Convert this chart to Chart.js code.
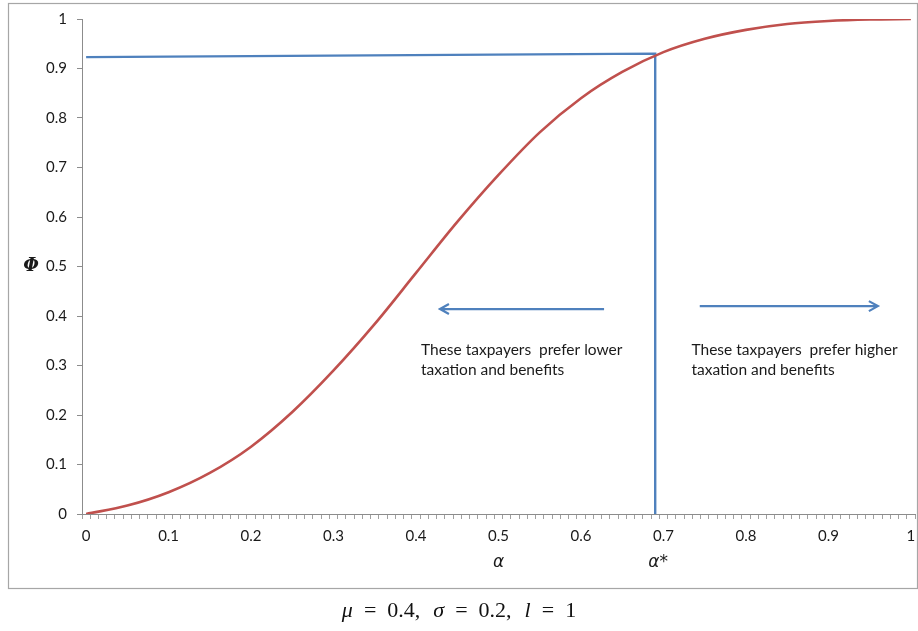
<!DOCTYPE html>
<html>
<head>
<meta charset="utf-8">
<script src="https://cdn.jsdelivr.net/npm/chart.js@4.4.1/dist/chart.umd.min.js"></script>
<style>
  body { margin: 0; background: #fff; }
  #wrap { position: relative; width: 918px; height: 631px; }
  canvas { position: absolute; left: 0; top: 0; }
  #caption {
    position: absolute; left: 0; width: 918px; top: 597px;
    text-align: center; font: 22px "Liberation Serif", "DejaVu Serif", serif; color: #111;
  }
  #caption i { font-style: italic; }
  #caption .eq { display: inline-block; margin: 0 11px; }
  #caption .sep { display: inline-block; width: 13px; }
</style>
</head>
<body>
<div id="wrap">
  <canvas id="chart" width="918" height="631"></canvas>
  <div id="caption"><i>μ</i><span class="eq">=</span>0.4,<span class="sep"></span><i>σ</i><span class="eq">=</span>0.2,<span class="sep"></span><i>l</i><span class="eq">=</span>1</div>
</div>
<script>
// curve
var alpha = [0, 0.05, 0.1, 0.15, 0.2, 0.25, 0.3, 0.35, 0.4, 0.45, 0.5,
             0.55, 0.6, 0.65, 0.7, 0.75, 0.8, 0.85, 0.9, 0.95, 1];
var phi = [0, 0.017, 0.044, 0.083, 0.136, 0.206, 0.29, 0.384, 0.487, 0.59, 0.685,
           0.771, 0.84, 0.893, 0.933, 0.96, 0.978, 0.99, 0.996, 0.999, 1];

// blue marker lines: from phi axis over to alpha*, then down
var alphaStar = 0.69;
var markX = [0, alphaStar, alphaStar];
var markY = [0.923, 0.93, 0];

// arrows [fromX, toX, y]
var arrowLeft = [0.628, 0.429, 0.414];
var arrowRight = [0.744, 0.96, 0.42];

var noteLeft = ['These taxpayers  prefer lower', 'taxation and benefits'];
var noteRight = ['These taxpayers  prefer higher', 'taxation and benefits'];
var notePos = [[0.406, 0.331], [0.734, 0.331]];

var xLabels = ['0', '0.1', '0.2', '0.3', '0.4', '0.5', '0.6', '0.7', '0.8', '0.9', '1'];
var yLabels = ['0', '0.1', '0.2', '0.3', '0.4', '0.5', '0.6', '0.7', '0.8', '0.9', '1'];

var red = '#c0504d';
var blue = '#4f81bd';
var axisGrey = '#8c8c8c';
var tickFont = { family: 'Lato', size: 15 };

function isLabel(v) {
  return Math.abs(v * 10 - Math.round(v * 10)) < 1e-6;
}

var extras = {
  id: 'extras',
  beforeDraw: function (chart) {
    var c = chart.ctx;
    c.save();
    c.fillStyle = '#fff';
    c.fillRect(0, 0, chart.width, chart.height);
    c.strokeStyle = '#a6a6a6';
    c.lineWidth = 1.2;
    c.strokeRect(8.5, 3.5, 909, 585);
    c.restore();
  },
  afterDraw: function (chart) {
    var c = chart.ctx;
    var xs = chart.scales.x, ys = chart.scales.y;
    c.save();
    c.strokeStyle = blue;
    c.lineWidth = 2.2;
    [arrowLeft, arrowRight].forEach(function (a) {
      var x0 = xs.getPixelForValue(a[0]), x1 = xs.getPixelForValue(a[1]);
      var y = ys.getPixelForValue(a[2]);
      var d = x1 > x0 ? -1 : 1;
      c.beginPath();
      c.moveTo(x0, y);
      c.lineTo(x1, y);
      c.moveTo(x1 + d * 9, y - 5);
      c.lineTo(x1, y);
      c.lineTo(x1 + d * 9, y + 5);
      c.stroke();
    });
    c.fillStyle = '#1a1a1a';
    c.font = '15.5px Lato';
    c.textBaseline = 'middle';
    c.textAlign = 'left';
    [noteLeft, noteRight].forEach(function (lines, i) {
      var x = xs.getPixelForValue(notePos[i][0]);
      var y = ys.getPixelForValue(notePos[i][1]);
      lines.forEach(function (t, j) {
        c.fillText(t, x, y + j * 20);
      });
    });
    // axis titles
    c.font = 'italic 17px "DejaVu Sans"';
    c.textAlign = 'center';
    c.fillText('α', xs.getPixelForValue(0.5), ys.bottom + 49);
    c.fillText('α*', xs.getPixelForValue(alphaStar) + 3, ys.bottom + 49);
    c.font = 'bold italic 18px "DejaVu Serif"';
    c.fillText('Φ', 31, ys.getPixelForValue(0.5));
    c.restore();
  }
};

var xTicks = [];
for (var k = 0; k <= 101; k++) xTicks.push(Math.round((k * 0.01 - 0.005) * 1000) / 1000);
xLabels.forEach(function (l) { xTicks.push(parseFloat(l)); });
xTicks.sort(function (a, b) { return a - b; });

new Chart(document.getElementById('chart'), {
  type: 'line',
  data: {
    datasets: [{
      data: alpha.map(function (a, i) { return { x: a, y: phi[i] }; }),
      borderColor: red,
      borderWidth: 2.6,
      pointRadius: 0,
      cubicInterpolationMode: 'monotone'
    }, {
      data: markX.map(function (a, i) { return { x: a, y: markY[i] }; }),
      borderColor: blue,
      borderWidth: 2.4,
      pointRadius: 0,
      tension: 0
    }]
  },
  options: {
    responsive: false,
    animation: false,
    layout: { padding: { left: 0, top: 19, right: 3, bottom: 0 } },
    scales: {
      x: {
        type: 'linear',
        min: -0.005,
        max: 1.005,
        afterBuildTicks: function (scale) {
          scale.ticks = xTicks.map(function (v) { return { value: v }; });
        },
        afterFit: function (scale) {
          scale.height = 117;
          scale.paddingRight = 0;
        },
        border: { color: axisGrey, width: 1 },
        grid: {
          drawOnChartArea: false,
          tickLength: 5,
          tickColor: function (ctx) { return ctx.tick && isLabel(ctx.tick.value) ? 'rgba(0,0,0,0)' : '#a0a0a0'; },
          color: 'rgba(0,0,0,0)'
        },
        ticks: {
          autoSkip: false,
          maxRotation: 0,
          padding: 8,
          color: '#1a1a1a',
          font: tickFont,
          callback: function (v) { return isLabel(v) ? String(Math.round(v * 10) / 10) : ''; }
        }
      },
      y: {
        min: 0,
        max: 1,
        afterFit: function (scale) { scale.width = 82; },
        border: { color: axisGrey, width: 1 },
        grid: { drawOnChartArea: false, tickLength: 5, tickColor: axisGrey },
        ticks: {
          stepSize: 0.1,
          padding: 10,
          color: '#1a1a1a',
          font: tickFont,
          callback: function (v, i) { return yLabels[i]; }
        }
      }
    },
    plugins: { legend: { display: false }, tooltip: { enabled: false } }
  },
  plugins: [extras]
});
</script>
</body>
</html>
